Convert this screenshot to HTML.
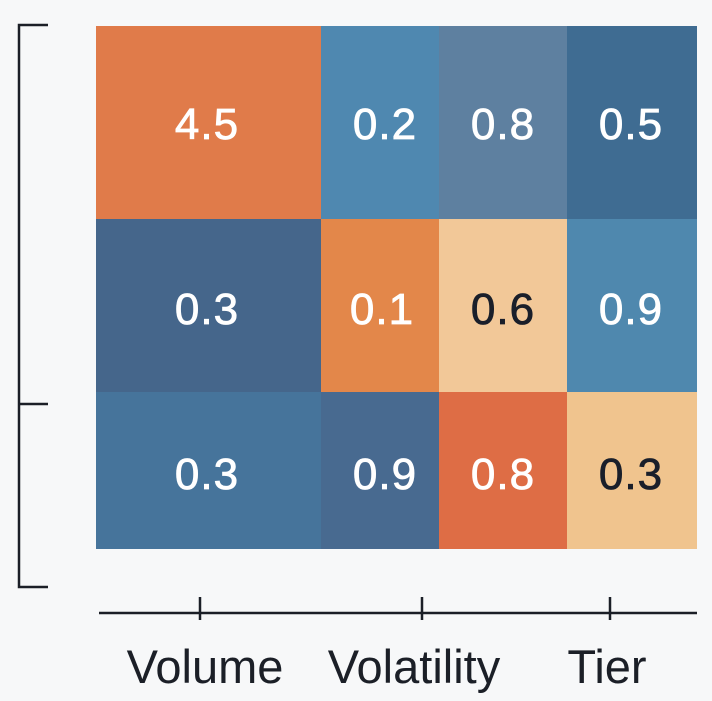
<!DOCTYPE html>
<html><head><meta charset="utf-8"><style>
html,body{margin:0;padding:0;background:#f7f8f9;}
svg{display:block}
text{font-family:"Liberation Sans",Arial,sans-serif;}
</style></head><body>
<svg width="712" height="701" viewBox="0 0 712 701" xmlns="http://www.w3.org/2000/svg">
<rect width="712" height="701" fill="#f7f8f9"/>
<rect x="96" y="26" width="225" height="193" fill="#e07b4a"/>
<rect x="321" y="26" width="118" height="193" fill="#4f88b0"/>
<rect x="439" y="26" width="128" height="193" fill="#5e80a0"/>
<rect x="567" y="26" width="130" height="193" fill="#3f6c92"/>
<rect x="96" y="219" width="225" height="173" fill="#45668b"/>
<rect x="321" y="219" width="118" height="173" fill="#e3874a"/>
<rect x="439" y="219" width="128" height="173" fill="#f2c898"/>
<rect x="567" y="219" width="130" height="173" fill="#4f88ae"/>
<rect x="96" y="392" width="225" height="157" fill="#46749b"/>
<rect x="321" y="392" width="118" height="157" fill="#486a90"/>
<rect x="439" y="392" width="128" height="157" fill="#de6d45"/>
<rect x="567" y="392" width="130" height="157" fill="#f0c48e"/>
<g font-size="44" text-anchor="middle" fill="#fff" stroke="#fff" stroke-width="0.8" letter-spacing="1">
<text x="207" y="139">4.5</text>
<text x="385" y="139">0.2</text>
<text x="503" y="139">0.8</text>
<text x="631" y="139">0.5</text>
<text x="207" y="324">0.3</text>
<text x="382" y="324">0.1</text>
<text x="503" y="324" fill="#1a1f2a" stroke="#1a1f2a">0.6</text>
<text x="631" y="324">0.9</text>
<text x="207" y="489">0.3</text>
<text x="385" y="489">0.9</text>
<text x="503" y="489">0.8</text>
<text x="631" y="489" fill="#1a1f2a" stroke="#1a1f2a">0.3</text>
</g>
<g stroke="#1b1f27" stroke-width="2.5" fill="none">
<path d="M48 25 H19 V587 H48"/>
<path d="M19 404 H48"/>
<path d="M99 613 H697"/>
<path d="M200 597 V620 M422 597 V620 M610 597 V620"/>
</g>
<g font-size="47" text-anchor="middle" fill="#1b1f27">
<text x="205" y="683">Volume</text>
<text x="414" y="683">Volatility</text>
<text x="607" y="683">Tier</text>
</g>
</svg>
</body></html>
